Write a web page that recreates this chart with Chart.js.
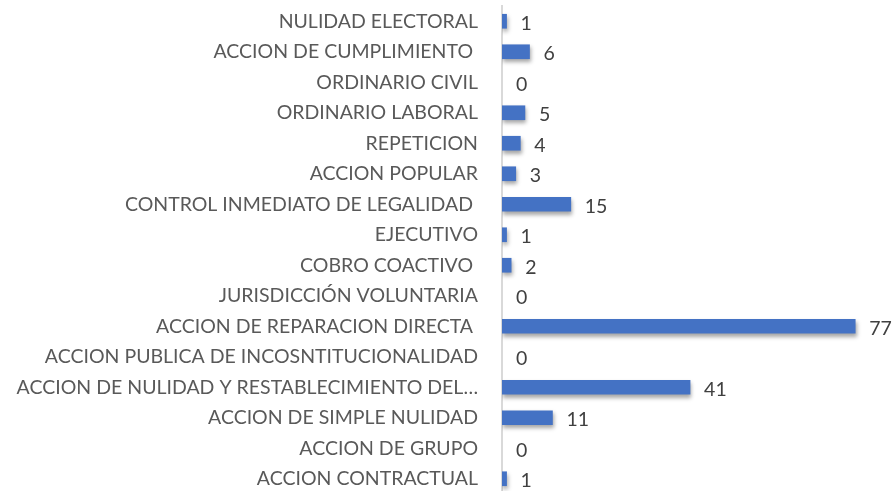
<!DOCTYPE html>
<html>
<head>
<meta charset="utf-8">
<script src="https://cdn.jsdelivr.net/npm/chart.js@4"></script>
<style>
  html, body { margin: 0; padding: 0; background: #fff; overflow: hidden; }
  #wrap { width: 895px; height: 494px; }
</style>
</head>
<body>
<div id="wrap"><canvas id="procesosChart"></canvas></div>
<script>
const categories = [
    'NULIDAD ELECTORAL',
    'ACCION DE CUMPLIMIENTO ',
    'ORDINARIO CIVIL',
    'ORDINARIO LABORAL',
    'REPETICION',
    'ACCION POPULAR',
    'CONTROL INMEDIATO DE LEGALIDAD ',
    'EJECUTIVO',
    'COBRO COACTIVO ',
    'JURISDICCIÓN VOLUNTARIA',
    'ACCION DE REPARACION DIRECTA ',
    'ACCION PUBLICA DE INCOSNTITUCIONALIDAD',
    'ACCION DE NULIDAD Y RESTABLECIMIENTO DEL…',
    'ACCION DE SIMPLE NULIDAD',
    'ACCION DE GRUPO',
    'ACCION CONTRACTUAL'
];
const procesos = [1, 6, 0, 5, 4, 3, 15, 1, 2, 0, 77, 0, 41, 11, 0, 1];
const axisMax = 80;

// gradient fill like the office style bars
function barFill(context) {
    if (procesos[context.dataIndex] === 0) return 'rgba(0,0,0,0)';
    const el = context.element;
    const c = context.chart.ctx;
    if (!el || el.y === undefined) return '#4472c4';
    const h = el.height || 14;
    const g = c.createLinearGradient(0, el.y - h / 2, 0, el.y + h / 2);
    g.addColorStop(0, '#5b88d6');
    g.addColorStop(0.5, '#4473c8');
    g.addColorStop(1, '#3060bd');
    return g;
}

const barShadow = {
    id: 'barShadow',
    beforeDatasetDraw(chart) {
        const c = chart.ctx;
        c.save();
        c.shadowColor = 'rgba(0,0,0,0.35)';
        c.shadowBlur = 4;
        c.shadowOffsetY = 3;
        c.shadowOffsetX = 1;
    },
    afterDatasetDraw(chart) {
        chart.ctx.restore();
    }
};

const valueLabels = {
    id: 'valueLabels',
    afterDatasetsDraw(chart) {
        const c = chart.ctx;
        const meta = chart.getDatasetMeta(0);
        c.save();
        c.font = '19.5px Lato';
        c.fillStyle = '#404040';
        c.textAlign = 'left';
        c.textBaseline = 'middle';
        meta.data.forEach((bar, i) => {
            c.fillText(String(procesos[i]), bar.x + 14, bar.y + 2);
        });
        c.restore();
    }
};

const ctx = document.getElementById('procesosChart').getContext('2d');

let procesosChart = new Chart(ctx, {
    type: 'bar',
    data: {
        labels: categories,
        datasets: [
            {
                label: 'Procesos',
                data: procesos,
                backgroundColor: barFill,
                barThickness: 14
            }
        ]
    },
    options: {
        indexAxis: 'y',
        responsive: true,
        maintainAspectRatio: false,
        animation: false,
        layout: {
            padding: { top: 6, right: 26, bottom: 0, left: 0 }
        },
        plugins: {
            legend: { display: false },
            tooltip: { enabled: false }
        },
        scales: {
            x: {
                display: false,
                min: 0,
                max: axisMax
            },
            y: {
                grid: { display: false },
                border: { display: true, color: '#d9d9d9', width: 2 },
                ticks: {
                    color: '#595959',
                    font: { family: 'Lato', size: 19.5 },
                    padding: 16,
                    autoSkip: false
                },
                afterFit(scale) {
                    scale.width = 502;
                    scale.paddingTop = 0;
                    scale.paddingBottom = 0;
                }
            }
        }
    },
    plugins: [barShadow, valueLabels]
});
</script>
</body>
</html>
